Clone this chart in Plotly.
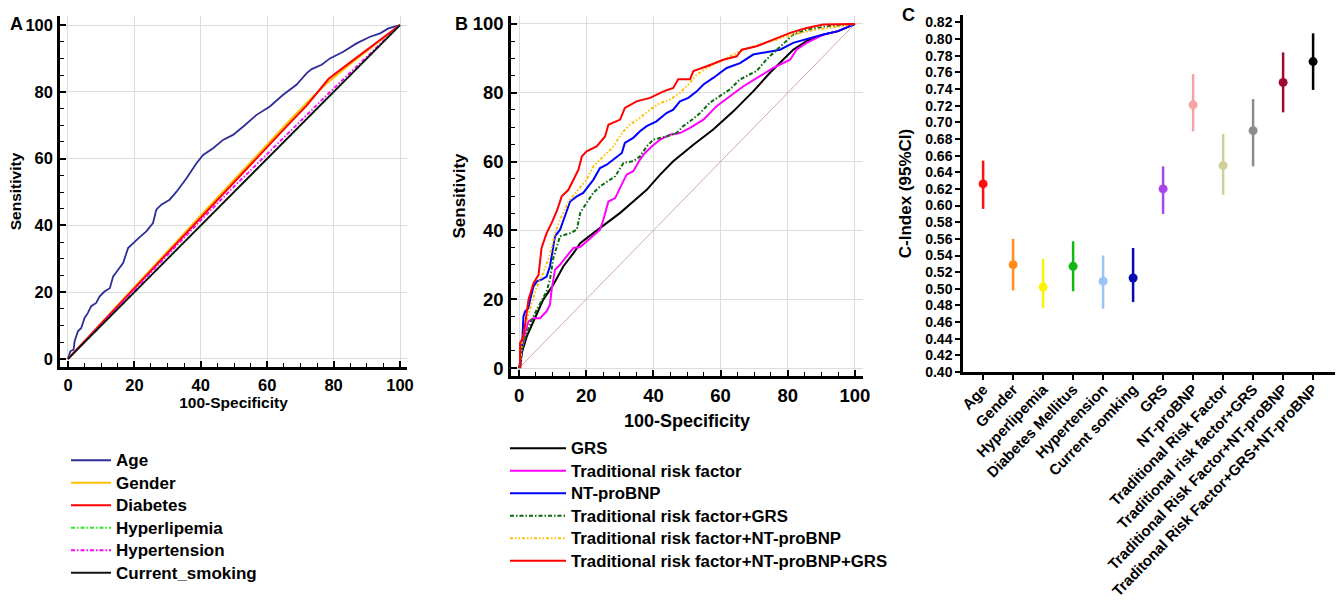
import plotly.graph_objects as go

W, H = 1338, 613

# ---------------- Panel A data (ROC, 100-Specificity vs Sensitivity) -------------
age_x = [0, 0.7, 1.7, 2, 3, 4, 5, 6, 7, 8.5, 9.5, 11, 12.6, 13.6, 15.1, 16.6, 18.1, 19.6, 21.6, 23.6,
         25.6, 26.6, 28.1, 30.6, 32.7, 35.7, 38.7, 40.7, 43.7, 46.7, 49.7, 52.8, 56.8, 60.8, 64.8,
         68.8, 71.9, 73.4, 76.4, 78.9, 82.9, 86.9, 91, 94, 96.5, 100]
age_y = [0, 2.3, 2.8, 5.3, 8.3, 9.3, 12.3, 13.8, 15.8, 16.8, 18.7, 20.2, 21.2, 24.7, 26.7, 28.7, 33.2,
         34.7, 36.5, 38.2, 40.7, 44.7, 46.2, 47.7, 50.1, 54.1, 58.6, 61.1, 63.1, 65.6, 67.1, 69.6,
         73.1, 75.6, 79.1, 82.1, 85.6, 86.8, 88.1, 90.0, 92.0, 94.5, 96.5, 97.5, 99, 100]
gender_x = [0, 10, 20, 30, 40, 50, 60, 66, 72, 78, 85, 90, 95, 100]
gender_y = [0, 10.8, 21.6, 32.3, 43.0, 53.6, 64.3, 70.6, 76.8, 82.6, 88.3, 92.2, 96.1, 100]
diab_x = [0, 10, 20, 30, 40, 50, 60, 66, 72, 78.5, 85, 90, 95, 100]
diab_y = [0, 10.6, 21.2, 31.9, 42.5, 53.0, 63.5, 69.8, 76.0, 83.9, 88.8, 92.5, 96.3, 100]
hlip_x = [0, 20, 40, 60, 80, 100]
hlip_y = [0, 19.9, 39.9, 59.9, 79.9, 100]
htn_x = [0, 20, 40, 50, 60, 80, 100]
htn_y = [0, 20.9, 41.5, 51.6, 61.4, 81.0, 100]
smk_x = [0, 20, 40, 60, 80, 100]
smk_y = [0, 20, 40, 60, 80, 100]

# ---------------- Panel B data -------------
grs_x = [0, 0.8, 2.3, 3.8, 5.3, 7.2, 10.2, 13.2, 16.2, 18.2, 22.1, 26.1, 30.1, 34, 38, 42, 45.9, 51.9,
         57.8, 63.8, 69.7, 74.7, 79.7, 81.6, 85.6, 90.6, 95, 100]
grs_y = [0, 4.4, 9.2, 12.6, 16, 19.9, 24.2, 29.6, 33.4, 36.3, 39.2, 42.2, 45.1, 48.4, 51.8, 56.2, 60.1,
         64.9, 69.3, 74.6, 80.4, 85.8, 90.6, 92.5, 95, 96.9, 97.9, 100]
trf_x = [0.3, 0.8, 1.8, 2.8, 4.3, 6.3, 7.2, 8.2, 9.2, 9.7, 10.7, 12.2, 14.2, 16.2, 18.2, 20.1, 22.1,
         24.1, 25.1, 26.6, 28.6, 29.6, 31.1, 32.0, 34, 36, 37.5, 39.5, 42, 44.9, 47.9, 50.9, 54.9,
         58.8, 62.8, 66.8, 71.7, 75.7, 80.7, 82.6, 85.6, 90.6, 95, 100]
trf_y = [0, 5.3, 10.2, 13.6, 14.5, 14.5, 15.5, 16.5, 18.4, 22.8, 28.6, 30, 32.5, 34.9, 35.2, 36.8, 38.3,
         40.2, 43.1, 48.4, 49.4, 51.4, 54.3, 56.2, 57.2, 60.6, 62.5, 64.4, 66.4, 67.8, 68.3, 69.8,
         72.2, 76.1, 79, 81.9, 84.8, 87.2, 89.6, 92.5, 94.5, 96.9, 97.9, 100]
nt_x = [0.3, 0.8, 1.3, 1.8, 2.8, 3.3, 4.3, 5.3, 6.7, 8.2, 9.2, 10.2, 10.7, 12.2, 13.7, 15.2, 17.2, 19.1,
        20.6, 22.1, 24.1, 26.1, 28.1, 30.6, 31.5, 34, 36, 38, 40.9, 43.9, 45.9, 47.9, 50.4, 52.9,
        54.9, 57.8, 61.8, 65.8, 69.7, 73.7, 77.7, 81.6, 85.6, 90.6, 95, 100]
nt_y = [0, 4.4, 15, 16.5, 17.4, 19.9, 23.7, 25.2, 25.7, 26.6, 29.6, 35.4, 38.3, 40.2, 44.1, 48.4, 49.9,
        50.9, 52.8, 54.7, 58.1, 59.1, 60.6, 62.5, 65.4, 66.9, 68.8, 70.3, 71.7, 74.1, 75.1, 77.5,
        78.5, 80.4, 82.4, 84.3, 87.2, 88.6, 91.1, 91.7, 92.5, 94.5, 95.6, 96.9, 97.9, 100]
tg_x = [0.3, 0.8, 2.3, 3.8, 5.3, 6.7, 8.2, 9.2, 10.2, 12.2, 15.2, 17.2, 18.2, 20.1, 22.1, 24.1, 26.6,
        28.6, 31.1, 34, 36, 38, 40, 43.9, 46.9, 48.9, 50.9, 53.9, 56.8, 59.8, 62.8, 65.8, 70.7,
        73.7, 76.7, 81.6, 85.6, 91.6, 100]
tg_y = [0, 5.3, 10.2, 14.1, 17, 19.4, 22.3, 25.7, 32, 38.3, 39.2, 40.2, 45.1, 48, 50.9, 52.8, 54.3,
        55.7, 59.6, 60.1, 61.5, 64.4, 66.4, 67.3, 68.3, 70.3, 71.7, 74.1, 77.1, 79, 81, 83.9, 86.3,
        89.7, 92.5, 96.9, 98.3, 99.3, 100]
tn_x = [0.3, 0.8, 2.3, 3.8, 5.3, 7.2, 9.2, 10.7, 12.2, 14.7, 17.2, 20.1, 22.1, 25.1, 28.1, 30.6, 33,
        36, 39, 42, 44.9, 47.9, 50.9, 52.9, 56.8, 60.8, 65.8, 71.7, 76.7, 81.6, 87.6, 93.5, 100]
tn_y = [0, 7.3, 14.1, 18.9, 23.7, 27.6, 33, 39.2, 43.1, 48.4, 51.4, 54.7, 58.6, 61.5, 64.4, 68.3, 70.7,
        72.7, 75.1, 77.0, 78, 80, 82.9, 85.3, 87.7, 89.6, 92.1, 94, 95.4, 96.9, 98.2, 99.1, 100]
all_x = [0.3, 0.3, 1.3, 2.8, 4.3, 5.8, 6.7, 8.2, 9.7, 11.2, 12.7, 14.7, 16.2, 17.7, 18.7, 20.1, 23.1,
         25.6, 26.6, 30.1, 31.5, 35, 39, 43, 45.9, 47.4, 50.9, 51.9, 55.9, 60.8, 64.8, 66.3, 70.7,
         75.7, 80.7, 85.6, 90.6, 100]
all_y = [0, 7.3, 9.2, 19.9, 24.7, 27.1, 34.9, 39.2, 42.2, 45.5, 49.9, 51.8, 54.7, 57.7, 61.5, 63, 64.4,
         67.3, 70.7, 72.2, 75.6, 77.5, 78.5, 80.4, 81.4, 83.9, 83.9, 86.3, 87.7, 89.6, 90.6, 92.5,
         93.5, 95.4, 97.4, 98.8, 99.8, 100]
ref_x = [0, 100]
ref_y = [0, 100]

# ---------------- Panel C data (C-index with 95% CI) -------------
c_labels = ["Age", "Gender", "Hyperlipemia", "Diabetes Mellitus", "Hypertension", "Current somking",
            "GRS", "NT-proBNP", "Traditional Risk Factor", "Traditional risk factor+GRS",
            "Traditional Risk Factor+NT-proBNP", "Traditonal Risk Factor+GRS+NT-proBNP"]
c_value = [0.626, 0.529, 0.502, 0.527, 0.509, 0.513, 0.620, 0.721, 0.648, 0.690, 0.748, 0.773]
c_low = [0.596, 0.498, 0.477, 0.497, 0.476, 0.484, 0.590, 0.689, 0.613, 0.647, 0.712, 0.739]
c_high = [0.654, 0.560, 0.536, 0.557, 0.540, 0.549, 0.647, 0.758, 0.686, 0.728, 0.784, 0.807]
c_colors = ["#FF1010", "#FF8C1A", "#FFF200", "#10B810", "#9CC3F5", "#0A0AB4",
            "#A845E8", "#F6A3A3", "#CFCF9A", "#8C8C8C", "#A00A32", "#000000"]

FONT = "Liberation Sans, Arial, sans-serif"

fig = go.Figure()

def px_x(p):
    return p / W

def px_y(p):
    return 1 - p / H

def legend_label(text, size):
    return f"<span style='font-size:{size}px'>{text}</span>"

# Panel A traces
a_series = [
    ("Age", age_x, age_y, "#2E2E9A", "solid", 1.8),
    ("Gender", gender_x, gender_y, "#FFC000", "solid", 2),
    ("Diabetes", diab_x, diab_y, "#FF0000", "solid", 2),
    ("Hyperlipemia", hlip_x, hlip_y, "#22EE22", "4px,2px,1.5px,2px", 1.8),
    ("Hypertension", htn_x, htn_y, "#FF00FF", "4px,2px,1.5px,2px", 1.8),
    ("Current_smoking", smk_x, smk_y, "#111111", "solid", 1.8),
]
for name, xs, ys, col, dash, w in a_series:
    fig.add_trace(go.Scatter(x=xs, y=ys, mode="lines", name=legend_label(name, 17),
                             xaxis="x", yaxis="y",
                             line=dict(color=col, dash=dash, width=w), legend="legend"))

# Panel B traces
fig.add_trace(go.Scatter(x=ref_x, y=ref_y, mode="lines", showlegend=False, xaxis="x2", yaxis="y2",
                         line=dict(color="#D4A8A8", width=1)))
b_series = [
    ("GRS", grs_x, grs_y, "#000000", "solid"),
    ("Traditional risk factor", trf_x, trf_y, "#FF00FF", "solid"),
    ("NT-proBNP", nt_x, nt_y, "#0000FF", "solid"),
    ("Traditional risk factor+GRS", tg_x, tg_y, "#0A6A0A", "4px,2px,1.5px,2px"),
    ("Traditional risk factor+NT-proBNP", tn_x, tn_y, "#FFC000", "3px,2px,1.5px,2px,1.5px,2px"),
    ("Traditional risk factor+NT-proBNP+GRS", all_x, all_y, "#FF0000", "solid"),
]
for name, xs, ys, col, dash in b_series:
    fig.add_trace(go.Scatter(x=xs, y=ys, mode="lines", name=legend_label(name, 16.8),
                             xaxis="x2", yaxis="y2",
                             line=dict(color=col, dash=dash, width=2), legend="legend2"))

# Panel C traces
for i, lab in enumerate(c_labels):
    fig.add_trace(go.Scatter(
        x=[lab], y=[c_value[i]], mode="markers", showlegend=False, xaxis="x3", yaxis="y3",
        marker=dict(color=c_colors[i], size=9),
        error_y=dict(type="data", symmetric=False, array=[c_high[i] - c_value[i]],
                     arrayminus=[c_value[i] - c_low[i]], color=c_colors[i], thickness=2.5, width=0)))

tickfontA = dict(family=FONT, size=16.5, color="black", weight="bold")
tickfontB = dict(family=FONT, size=18.5, color="black", weight="bold")
grid = "#DCDCDC"

common_roc = dict(showline=True, linecolor="black", linewidth=2.5, ticks="inside", ticklen=6,
                  tickwidth=1.5, tickcolor="black", showgrid=True, gridcolor=grid, gridwidth=1,
                  zeroline=False, dtick=20, tick0=0, automargin=False,
                  minor=dict(dtick=5, ticks="inside", ticklen=4, tickcolor="black", tickwidth=1,
                             showgrid=False))

fig.update_layout(
    width=W, height=H, margin=dict(l=0, r=0, t=0, b=0),
    paper_bgcolor="white", plot_bgcolor="white",
    font=dict(family=FONT, color="black"),
    xaxis=dict(domain=[px_x(60), px_x(407)], range=[-2.4, 102.1], anchor="y",
               tickfont=tickfontA, ticklabelstandoff=1,
               title=dict(text="100-Specificity", font=dict(family=FONT, size=15.5, weight="bold"),
                          standoff=5), **common_roc),
    yaxis=dict(domain=[px_y(367), px_y(16)], range=[-2.4, 102.7], anchor="x",
               tickfont=tickfontA, ticklabelstandoff=1,
               title=dict(text="Sensitivity", font=dict(family=FONT, size=15.5, weight="bold"),
                          standoff=0), **common_roc),
    xaxis2=dict(domain=[px_x(511), px_x(863)], range=[-2.4, 102.4], anchor="y2",
                tickfont=tickfontB, ticklabelstandoff=1,
                title=dict(text="100-Specificity", font=dict(family=FONT, size=18, weight="bold"),
                           standoff=10), **common_roc),
    yaxis2=dict(domain=[px_y(376), px_y(16)], range=[-2.3, 102.3], anchor="x2",
                tickfont=tickfontB, ticklabelstandoff=1,
                title=dict(text="Sensitivity", font=dict(family=FONT, size=17, weight="bold"),
                           standoff=3), **common_roc),
    xaxis3=dict(domain=[px_x(963), px_x(1335)], range=[-0.67, 11.73], anchor="y3",
                type="category", categoryorder="array", categoryarray=c_labels,
                showline=True, linecolor="black", linewidth=2.5, ticks="outside", ticklen=5,
                tickwidth=2, tickcolor="black", showgrid=False, zeroline=False, tickangle=-46,
                ticklabelstandoff=-5,
                tickfont=dict(family=FONT, size=15, color="black", weight="bold"), automargin=False),
    yaxis3=dict(domain=[px_y(372), px_y(15)], range=[0.40, 0.829], anchor="x3",
                showline=True, linecolor="black", linewidth=2.5, ticks="outside", ticklen=5,
                tickwidth=2, tickcolor="black", showgrid=False, zeroline=False,
                tick0=0.40, dtick=0.02, tickformat=".2f",
                tickfont=dict(family=FONT, size=14, color="black", weight="bold"),
                title=dict(text="C-Index (95%CI)", font=dict(family=FONT, size=17, weight="bold"),
                           standoff=10), automargin=False),
    legend=dict(x=px_x(66), y=px_y(444), xanchor="left", yanchor="top", bgcolor="rgba(0,0,0,0)",
                font=dict(family=FONT, size=15, color="black", weight="bold"), itemwidth=40,
                tracegroupgap=0),
    legend2=dict(x=px_x(505), y=px_y(432), xanchor="left", yanchor="top", bgcolor="rgba(0,0,0,0)",
                 font=dict(family=FONT, size=15, color="black", weight="bold"), itemwidth=56,
                 tracegroupgap=0),
    annotations=[
        dict(text="A", x=px_x(16), y=px_y(24), xref="paper", yref="paper", showarrow=False,
             xanchor="center", yanchor="middle", font=dict(family=FONT, size=18, weight="bold")),
        dict(text="B", x=px_x(461), y=px_y(24), xref="paper", yref="paper", showarrow=False,
             xanchor="center", yanchor="middle", font=dict(family=FONT, size=18, weight="bold")),
        dict(text="C", x=px_x(908), y=px_y(15), xref="paper", yref="paper", showarrow=False,
             xanchor="center", yanchor="middle", font=dict(family=FONT, size=18, weight="bold")),
    ],
)

fig.write_html("out.html", config={"displayModeBar": False},
               post_script="document.body.style.margin='0px';")
